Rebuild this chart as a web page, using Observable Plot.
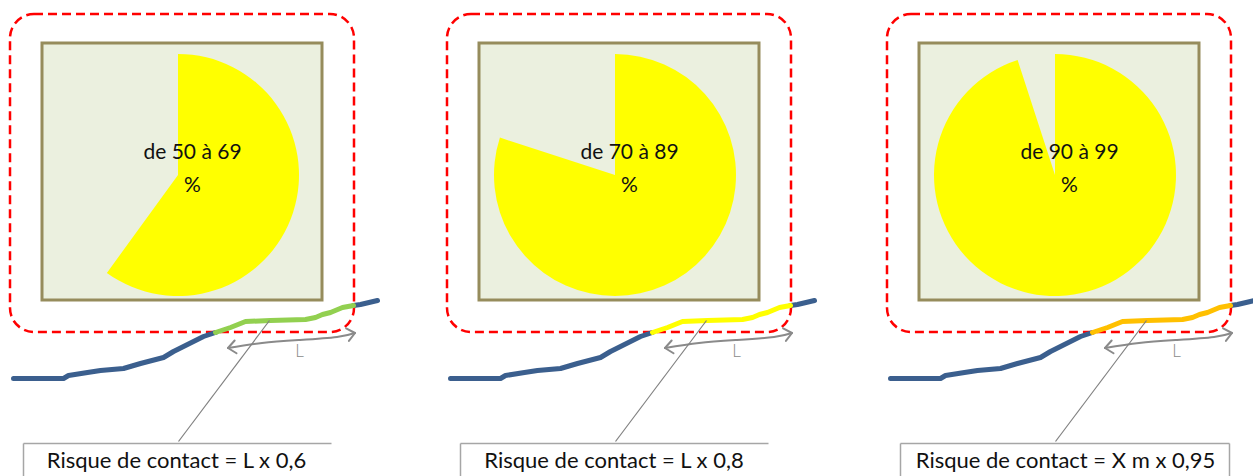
<!DOCTYPE html>
<html>
<head>
<meta charset="utf-8">
<script src="https://cdn.jsdelivr.net/npm/d3@7"></script>
<script src="https://cdn.jsdelivr.net/npm/@observablehq/plot@0.6"></script>
<style>
  html, body { margin: 0; padding: 0; background: #ffffff; }
  svg { display: block; }
</style>
</head>
<body>
<div id="chart"></div>
<script>
// ---------- data ----------
const panelIds = ["p1", "p2", "p3"];
const pieShares = [0.60, 0.80, 0.95];
const pieLabels = ["de 50 à 69", "de 70 à 89", "de 90 à 99"];
const pieUnit = "%";
const riskLabels = [
  "Risque de contact = L x 0,6",
  "Risque de contact = L x 0,8",
  "Risque de contact = X m x 0,95"
];
const lengthLabel = "L";
const segmentColors = ["#92d050", "#ffff00", "#ffc000"];
// ground profile (local panel coordinates)
const profileBefore = [[13,378],[63,378],[68,375],[87,372],[100,370],[123,368],[140,363],[163,357],[173,351],[187,344],[203,336],[215,332]];
const profileSegment = [[215,332],[230,327],[245,321],[270,320],[305,319],[315,317],[322,314],[330,312],[342,307],[353,305]];
const profileAfter = [[353,305],[360,304],[377,300]];
const arrowPath = [[228,348],[262,343],[300,340],[337,337],[355,333]];

// ---------- layout ----------
const W = 1253, H = 476;
const offsets = [0, 437, 877];
const boxRight = [331, 768 - 437, 1229 - 877];
const boxHasRight = [false, false, true];
const riskCenter = [176, 613.5 - 437, 1065 - 877];

const panels = panelIds.map((id, i) => ({
  id, i, off: offsets[i], share: pieShares[i], label: pieLabels[i],
  risk: riskLabels[i], color: segmentColors[i]
}));

const groundLines = [];
panels.forEach(p => {
  profileBefore.forEach(([x, y]) => groundLines.push({x: x + p.off, y, key: p.id + "a", color: "#3b5f8e"}));
  profileAfter.forEach(([x, y]) => groundLines.push({x: x + p.off, y, key: p.id + "c", color: "#3b5f8e"}));
  profileSegment.forEach(([x, y]) => groundLines.push({x: x + p.off, y, key: p.id + "b", color: p.color}));
});

const boxSegments = [];
panels.forEach((p, i) => {
  boxSegments.push({x1: 23 + p.off, y1: 443, x2: boxRight[i] + p.off, y2: 443});
  boxSegments.push({x1: 23 + p.off, y1: 443, x2: 23 + p.off, y2: 480});
  if (boxHasRight[i]) boxSegments.push({x1: boxRight[i] + p.off, y1: 443, x2: boxRight[i] + p.off, y2: 480});
});

// custom pie mark drawn through the plot's scales
function pieMark(index, scales) {
  const g = d3.create("svg:g");
  const arc = d3.arc();
  panels.forEach(p => {
    const cx = scales.x(178 + p.off), cy = scales.y(175);
    const r = scales.x(121) - scales.x(0);
    g.append("path")
      .attr("transform", `translate(${cx},${cy})`)
      .attr("d", arc({innerRadius: 0, outerRadius: r, startAngle: 0, endAngle: 2 * Math.PI * p.share}))
      .attr("fill", "#ffff00");
  });
  return g.node();
}

// custom double-headed length arrow through the plot's scales
function arrowMark(index, scales) {
  const g = d3.create("svg:g")
    .attr("fill", "none").attr("stroke", "#8a8a8a").attr("stroke-width", 2)
    .attr("stroke-linecap", "round").attr("stroke-linejoin", "round");
  const line = d3.line().curve(d3.curveNatural);
  const head = 10, ang = 40 * Math.PI / 180;
  panels.forEach(p => {
    const pts = arrowPath.map(([x, y]) => [scales.x(x + p.off), scales.y(y)]);
    g.append("path").attr("d", line(pts));
    [[pts[0], pts[1]], [pts[pts.length - 1], pts[pts.length - 2]]].forEach(([tip, prev]) => {
      const a = Math.atan2(prev[1] - tip[1], prev[0] - tip[0]);
      const p1 = [tip[0] + head * Math.cos(a + ang), tip[1] + head * Math.sin(a + ang)];
      const p2 = [tip[0] + head * Math.cos(a - ang), tip[1] + head * Math.sin(a - ang)];
      g.append("path").attr("d", `M${p1}L${tip}L${p2}`);
    });
  });
  return g.node();
}

const font = "Lato, 'Open Sans', sans-serif";

const chart = Plot.plot({
  width: W,
  height: H,
  margin: 0,
  style: {background: "#ffffff", fontFamily: font, overflow: "hidden"},
  x: {domain: [0, W], range: [0, W], axis: null},
  y: {domain: [0, H], range: [0, H], axis: null},
  color: {type: "identity"},
  marks: [
    // dashed red zone
    Plot.rect(panels, {x1: d => d.off + 10, x2: d => d.off + 354, y1: d => 14, y2: d => 332,
      rx: 24, fill: "none", stroke: "#ff0000", strokeWidth: 2.5, strokeDasharray: "9,5"}),
    // framed picture
    Plot.rect(panels, {x1: d => d.off + 42, x2: d => d.off + 322, y1: d => 43, y2: d => 300,
      fill: "#ebf0df", stroke: "#968c5c", strokeWidth: 3}),
    pieMark,
    Plot.text(panels, {x: d => d.off + 192, y: d => 152, text: "label", fontSize: 21, fill: "#111", fontFamily: font}),
    Plot.text(panels, {x: d => d.off + 192, y: d => 185, text: d => pieUnit, fontSize: 21, fill: "#111", fontFamily: font}),
    // ground profile
    Plot.line(groundLines, {x: "x", y: "y", z: "key", stroke: "color", strokeWidth: 5, strokeLinejoin: "round"}),
    // length arrow (double-headed)
    arrowMark,
    Plot.text(panels, {x: d => d.off + 299, y: d => 351, text: d => lengthLabel, fontSize: 17, fill: "#8a8a8a", fontFamily: font, fontWeight: 300}),
    // leader line
    Plot.link(panels, {x1: d => d.off + 269, y1: d => 320, x2: d => d.off + 178, y2: d => 441, stroke: "#808080", strokeWidth: 1.2}),
    // bottom label box
    Plot.link(boxSegments, {x1: "x1", y1: "y1", x2: "x2", y2: "y2", stroke: "#a6a6a6", strokeWidth: 1.5}),
    Plot.text(panels, {x: d => d.off + riskCenter[d.i], y: d => 460, text: "risk", fontSize: 22, fill: "#111", fontFamily: font})
  ]
});
document.getElementById("chart").appendChild(chart);
</script>
</body>
</html>
